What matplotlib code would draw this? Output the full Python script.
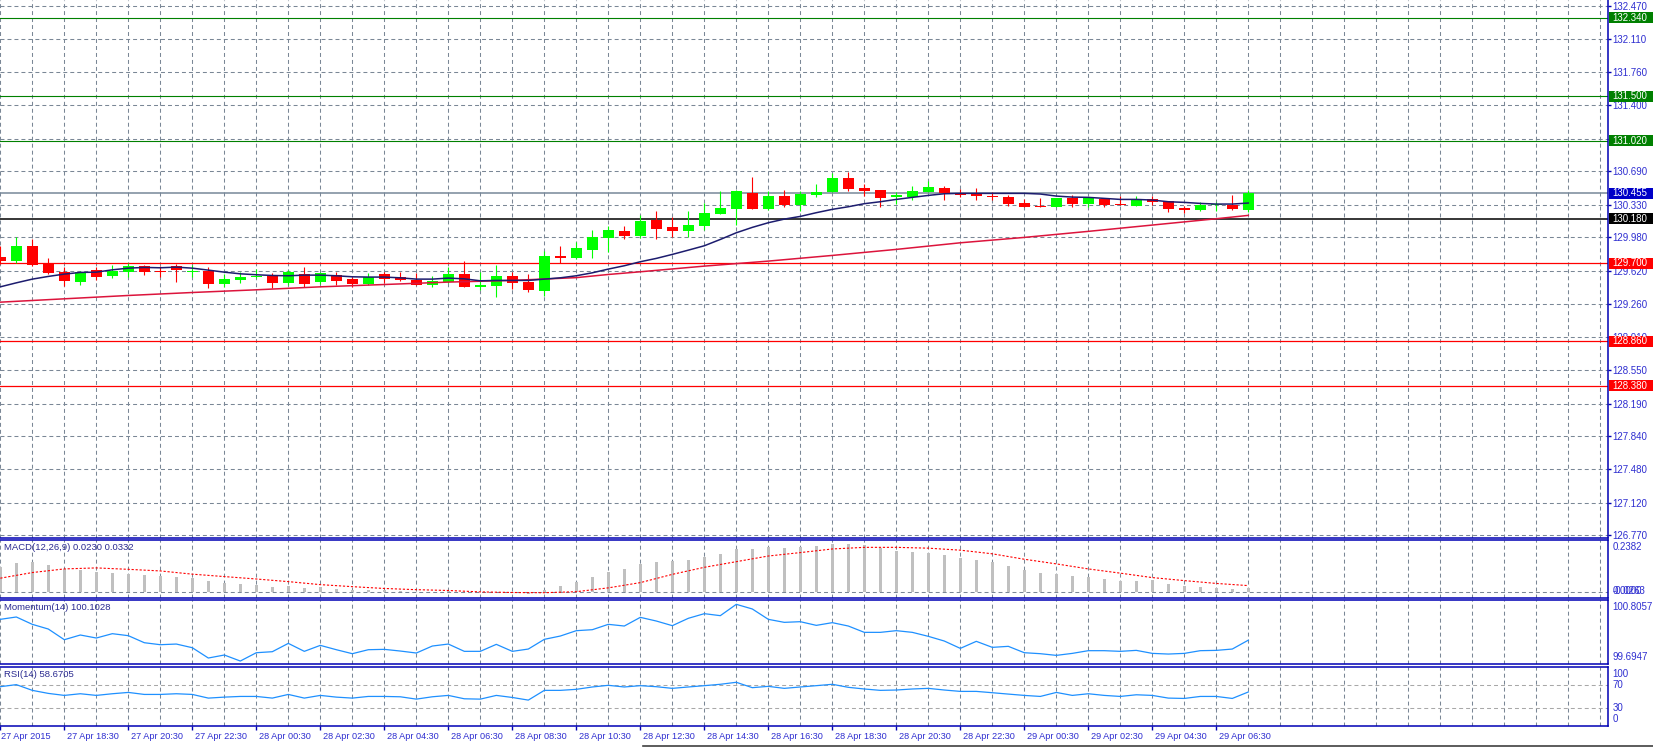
"""M30 candle chart with MAs, MACD, Momentum and RSI panes (MT4 look)."""

import matplotlib

matplotlib.use("Agg")
import matplotlib.pyplot as plt
import matplotlib.transforms as mtransforms
from matplotlib.lines import Line2D
from matplotlib.patches import Rectangle

plt.rcParams["font.family"] = ["Liberation Sans", "DejaVu Sans"]

# 30-minute bars, 27 Apr 2015 16:30 -> 29 Apr 2015 07:30
opens = [129.766, 129.723, 129.884, 129.701, 129.604, 129.500, 129.626, 129.565, 129.608, 129.669,
         129.611, 129.669, 129.605, 129.615, 129.478, 129.522, 129.555, 129.565, 129.486, 129.579,
         129.500, 129.568, 129.529, 129.478, 129.583, 129.550, 129.522, 129.468, 129.497, 129.583,
         129.446, 129.457, 129.561, 129.500, 129.403, 129.777, 129.759, 129.845, 129.971, 130.046,
         129.996, 130.168, 130.089, 130.046, 130.100, 130.229, 130.283, 130.456, 130.283, 130.423,
         130.323, 130.438, 130.470, 130.617, 130.509, 130.488, 130.409, 130.412, 130.470, 130.513,
         130.459, 130.459, 130.412, 130.412, 130.348, 130.312, 130.308, 130.405, 130.341, 130.387,
         130.341, 130.319, 130.391, 130.366, 130.294, 130.272, 130.328, 130.330, 130.276]
highs = [129.884, 129.978, 129.956, 129.759, 129.658, 129.615, 129.655, 129.676, 129.705, 129.683,
         129.669, 129.687, 129.676, 129.662, 129.579, 129.601, 129.637, 129.590, 129.626, 129.658,
         129.608, 129.604, 129.554, 129.597, 129.604, 129.601, 129.590, 129.561, 129.662, 129.723,
         129.601, 129.683, 129.608, 129.583, 129.834, 129.884, 129.931, 130.057, 130.100, 130.100,
         130.215, 130.262, 130.201, 130.262, 130.344, 130.477, 130.488, 130.632, 130.477, 130.488,
         130.477, 130.556, 130.675, 130.682, 130.556, 130.488, 130.470, 130.531, 130.585, 130.531,
         130.499, 130.513, 130.470, 130.430, 130.387, 130.402, 130.405, 130.434, 130.412, 130.405,
         130.423, 130.423, 130.423, 130.366, 130.319, 130.359, 130.362, 130.438, 130.484]
lows = [129.688, 129.705, 129.669, 129.586, 129.453, 129.464, 129.518, 129.543, 129.554, 129.572,
        129.554, 129.500, 129.554, 129.435, 129.446, 129.486, 129.536, 129.435, 129.464, 129.446,
        129.475, 129.464, 129.439, 129.464, 129.489, 129.507, 129.464, 129.446, 129.490, 129.440,
        129.410, 129.339, 129.425, 129.392, 129.349, 129.705, 129.741, 129.759, 129.823, 129.963,
        129.974, 129.963, 129.978, 129.978, 130.057, 130.229, 130.111, 130.283, 130.272, 130.305,
        130.265, 130.416, 130.470, 130.481, 130.427, 130.308, 130.337, 130.380, 130.463, 130.380,
        130.416, 130.380, 130.380, 130.319, 130.305, 130.301, 130.305, 130.308, 130.308, 130.308,
        130.326, 130.319, 130.326, 130.251, 130.237, 130.262, 130.262, 130.272, 130.251]
closes = [129.727, 129.884, 129.680, 129.597, 129.511, 129.601, 129.554, 129.619, 129.669, 129.604,
          129.608, 129.626, 129.612, 129.478, 129.529, 129.550, 129.560, 129.489, 129.604, 129.478,
          129.590, 129.511, 129.478, 129.557, 129.533, 129.522, 129.468, 129.504, 129.583, 129.446,
          129.464, 129.561, 129.489, 129.414, 129.777, 129.759, 129.863, 129.981, 130.057, 129.992,
          130.154, 130.068, 130.046, 130.111, 130.244, 130.298, 130.477, 130.283, 130.423, 130.326,
          130.445, 130.466, 130.617, 130.502, 130.481, 130.405, 130.438, 130.474, 130.520, 130.452,
          130.430, 130.427, 130.409, 130.341, 130.308, 130.308, 130.402, 130.341, 130.405, 130.326,
          130.326, 130.387, 130.362, 130.287, 130.276, 130.323, 130.331, 130.287, 130.455]

# fast MA (navy), one value per bar
ma_fast = [129.446, 129.489, 129.529, 129.558, 129.583, 129.601, 129.604, 129.629, 129.647, 129.655,
           129.651, 129.658, 129.647, 129.626, 129.604, 129.586, 129.576, 129.568, 129.565, 129.572,
           129.572, 129.565, 129.554, 129.551, 129.551, 129.543, 129.529, 129.529, 129.540, 129.532,
           129.511, 129.515, 129.515, 129.515, 129.529, 129.543, 129.565, 129.597, 129.637, 129.673,
           129.716, 129.752, 129.795, 129.841, 129.888, 129.956, 130.028, 130.086, 130.136, 130.175,
           130.204, 130.244, 130.280, 130.308, 130.341, 130.362, 130.387, 130.409, 130.430, 130.448,
           130.452, 130.452, 130.452, 130.452, 130.452, 130.445, 130.423, 130.412, 130.409, 130.398,
           130.387, 130.387, 130.380, 130.362, 130.355, 130.344, 130.337, 130.337, 130.348]
# slow MA (crimson), read every few bars
ma_slow_bars = [0, 4, 8, 12, 16, 20, 24, 28, 32, 36, 38, 40, 44, 48, 52, 56, 60, 64, 68, 72, 76, 78]
ma_slow = [129.281, 129.317, 129.353, 129.385, 129.414, 129.446, 129.471, 129.497, 129.515, 129.545,
           129.579, 129.608, 129.669, 129.723, 129.784, 129.849, 129.920, 129.978, 130.043, 130.111,
           130.179, 130.215]

green_levels = [132.340, 131.500, 131.020]
red_levels = [129.700, 128.860, 128.380]
black_level = 130.180
bid_price = 130.455

price_ticks = [132.470, 132.110, 131.760, 131.400, 131.040, 130.690, 130.330, 129.980, 129.620,
               129.260, 128.910, 128.550, 128.190, 127.840, 127.480, 127.120, 126.770]

macd_hist = [0.124, 0.145, 0.149, 0.136, 0.117, 0.111, 0.101, 0.096, 0.090, 0.086,
             0.083, 0.076, 0.071, 0.056, 0.046, 0.041, 0.037, 0.027, 0.031, 0.022,
             0.024, 0.016, 0.010, 0.012, 0.010, 0.006, 0.003, 0.003, 0.006, 0.002,
             0.000, 0.000, -0.003, -0.006, 0.010, 0.031, 0.052, 0.076, 0.101, 0.117,
             0.141, 0.151, 0.155, 0.160, 0.177, 0.191, 0.215, 0.215, 0.225, 0.220,
             0.225, 0.230, 0.238, 0.238, 0.234, 0.222, 0.207, 0.200, 0.195, 0.185,
             0.172, 0.160, 0.148, 0.130, 0.111, 0.096, 0.090, 0.081, 0.076, 0.066,
             0.058, 0.056, 0.059, 0.041, 0.031, 0.027, 0.022, 0.016, 0.0230]
signal_bars = list(range(0, 79, 2))
macd_signal = [0.070, 0.098, 0.116, 0.121, 0.114, 0.106, 0.090, 0.078, 0.066, 0.053,
               0.038, 0.028, 0.019, 0.013, 0.009, 0.002, -0.001, -0.002, 0.003, 0.022,
               0.048, 0.089, 0.124, 0.152, 0.180, 0.197, 0.215, 0.223, 0.223, 0.219,
               0.209, 0.191, 0.164, 0.141, 0.116, 0.095, 0.073, 0.058, 0.044, 0.0332]

momentum = [100.511, 100.557, 100.413, 100.321, 100.112, 100.204, 100.145, 100.230, 100.191, 100.053,
            100.014, 100.027, 99.955, 99.753, 99.812, 99.694, 99.857, 99.877, 100.040, 99.884,
            100.001, 99.916, 99.838, 99.916, 99.923, 99.890, 99.851, 99.988, 100.027, 99.884,
            99.884, 100.021, 99.884, 99.929, 100.119, 100.184, 100.289, 100.308, 100.413, 100.380,
            100.550, 100.478, 100.387, 100.531, 100.622, 100.583, 100.805, 100.714, 100.511, 100.452,
            100.465, 100.393, 100.446, 100.380, 100.256, 100.256, 100.289, 100.256, 100.178, 100.086,
            99.942, 100.080, 99.962, 99.982, 99.857, 99.838, 99.805, 99.844, 99.897, 99.897,
            99.884, 99.903, 99.844, 99.831, 99.844, 99.897, 99.903, 99.929, 100.1028]

rsi = [67.9, 71.5, 61.5, 56.2, 52.7, 55.6, 52.7, 55.6, 57.9, 54.4,
       54.4, 55.6, 54.4, 48.0, 49.7, 50.9, 50.9, 48.0, 54.4, 48.0,
       52.7, 49.7, 48.0, 50.9, 50.9, 50.3, 46.2, 50.3, 52.7, 46.8,
       46.2, 52.7, 49.1, 44.5, 61.5, 61.5, 63.3, 67.4, 70.3, 67.4,
       69.7, 67.9, 65.0, 67.4, 69.7, 72.1, 75.6, 66.2, 68.5, 65.0,
       67.4, 69.7, 72.1, 66.8, 63.9, 61.5, 62.1, 63.9, 65.0, 62.1,
       59.7, 59.7, 57.4, 55.0, 52.7, 50.9, 57.9, 52.7, 55.6, 52.7,
       50.9, 53.8, 52.7, 48.0, 47.4, 50.9, 50.9, 47.4, 58.6705]

date_bars = list(range(4, 77, 4))
date_labels = ["27 Apr 18:30", "27 Apr 20:30", "27 Apr 22:30", "28 Apr 00:30", "28 Apr 02:30",
               "28 Apr 04:30", "28 Apr 06:30", "28 Apr 08:30", "28 Apr 10:30", "28 Apr 12:30",
               "28 Apr 14:30", "28 Apr 16:30", "28 Apr 18:30", "28 Apr 20:30", "28 Apr 22:30",
               "29 Apr 00:30", "29 Apr 02:30", "29 Apr 04:30", "29 Apr 06:30"]

W, H = 1653, 747
AX_RIGHT = 1608.3
AXIS_BLUE = "#0000b4"
LABEL_BLUE = "#2e2ed0"
TITLE_COL = "#2a2a90"
GRID = "#7a8796"
DASH = (0, (3.8, 2.9))
FS = 7

fig = plt.figure(figsize=(W / 100, H / 100), dpi=100, facecolor="white")


def panel(top_px, bot_px, top_spine=True):
    ax = fig.add_axes([0, 1 - bot_px / H, AX_RIGHT / W, (bot_px - top_px) / H])
    ax.set_xlim(-0.02, 100.5)
    for s in ("top", "bottom", "right"):
        ax.spines[s].set_color(AXIS_BLUE)
        ax.spines[s].set_linewidth(1.1)
    ax.spines["left"].set_visible(False)
    ax.spines["top"].set_visible(top_spine)
    ax.tick_params(axis="x", bottom=False, labelbottom=False)
    ax.tick_params(axis="y", left=False, labelleft=False, right=False, labelright=False)
    for gx in range(0, 101, 2):
        ax.axvline(gx, color=GRID, lw=0.75, ls=DASH, zorder=0)
    return ax


def side_text(ax, y, s, va, dy=0, data=False):
    base = mtransforms.blended_transform_factory(fig.transFigure, ax.transData if data else ax.transAxes)
    tr = mtransforms.offset_copy(base, fig=fig, y=dy, units="dots")
    ax.text(1612.5 / W, y, s, transform=tr, ha="left", va=va, fontsize=FS,
            color=LABEL_BLUE, clip_on=False)


def title_text(ax, s):
    tr = mtransforms.offset_copy(ax.transAxes, fig=fig, x=4, y=-3, units="dots")
    ax.text(0, 1, s, transform=tr, ha="left", va="top", fontsize=6.8, color=TITLE_COL)


# ---- price pane
main = panel(0, 537.7, top_spine=False)
main.set_ylim(126.7456, 132.5335)
for t in price_ticks:
    main.axhline(t, color=GRID, lw=0.75, ls=DASH, zorder=0)
for lv in green_levels:
    main.axhline(lv, color="#008000", lw=0.8, zorder=1)
for lv in red_levels:
    main.axhline(lv, color="#ff0000", lw=0.9, zorder=1)
main.axhline(black_level, color="black", lw=1.1, zorder=1)
main.axhline(bid_price, color="#778899", lw=1.1, zorder=1)

x = list(range(len(opens)))
cols = ["#00ff00" if c > o else "#ff0000" for o, c in zip(opens, closes)]
body_lo = [min(o, c) for o, c in zip(opens, closes)]
body_h = [max(abs(c - o), 0.011) for o, c in zip(opens, closes)]
main.vlines(x, lows, highs, colors=cols, lw=0.8, zorder=3)
main.bar(x, body_h, bottom=body_lo, width=0.69, color=cols, lw=0, zorder=4)
main.plot(ma_slow_bars, ma_slow, color="#dc143c", lw=1.1, zorder=5)
main.plot(x, ma_fast, color="#1c1c6e", lw=1.1, zorder=5)

main.yaxis.tick_right()
main.set_yticks(price_ticks)
main.set_yticklabels([f"{t:.3f}" for t in price_ticks])
main.tick_params(axis="y", right=True, labelright=True, length=2.2, width=1,
                 color=AXIS_BLUE, labelcolor=LABEL_BLUE, labelsize=FS, pad=1)

# coloured price boxes on the scale
fig.canvas.draw()
box_levels = [(p, "#008000") for p in green_levels] + [(p, "#ff0000") for p in red_levels]
box_levels += [(bid_price, "#0000c8"), (black_level, "black")]
for p, c in box_levels:
    yf = main.transData.transform((0, p))[1] / fig.bbox.height
    fig.add_artist(Rectangle((1609 / W, yf - 5.5 / H), 1 - 1609 / W, 11 / H,
                             transform=fig.transFigure, facecolor=c, edgecolor="none", zorder=5))
    fig.text(1612.5 / W, yf, f"{p:.3f}", color="white", fontsize=FS, ha="left", va="center", zorder=6)

# ---- MACD pane
ax_macd = panel(540.3, 597.7)
ax_macd.set_ylim(-0.0268, 0.258)
ax_macd.axhline(0, color=GRID, lw=0.75, ls=DASH, zorder=0)
ax_macd.bar(x, macd_hist, width=0.19, color="#c0c0c0", lw=0, zorder=2)
ax_macd.plot(signal_bars, macd_signal, color="#ff0000", lw=0.8, ls=(0, (2, 1.6)), zorder=3)
title_text(ax_macd, f"MACD(12,26,9) {macd_hist[-1]:.4f} {macd_signal[-1]:.4f}")
side_text(ax_macd, 1, "0.2382", "top", dy=-2)
side_text(ax_macd, 0, "-0.0263", "bottom", dy=2)
side_text(ax_macd, 0, "0.0000", "bottom", dy=2)

# ---- Momentum pane
ax_mom = panel(600.3, 664)
ax_mom.set_ylim(99.636, 100.884)
ax_mom.plot(x, momentum, color="#1e90ff", lw=0.9, zorder=3)
title_text(ax_mom, f"Momentum(14) {momentum[-1]:.4f}")
side_text(ax_mom, 1, "100.8057", "top", dy=-2)
side_text(ax_mom, 0, "99.6947", "bottom", dy=2)

# ---- RSI pane
ax_rsi = panel(666.7, 726)
ax_rsi.set_ylim(-0.7, 102.8)
for lv in (70, 30):
    ax_rsi.axhline(lv, color="#a8a8a8", lw=0.75, ls=DASH, zorder=0)
ax_rsi.plot(x, rsi, color="#1e90ff", lw=0.9, zorder=3)
title_text(ax_rsi, f"RSI(14) {rsi[-1]:.4f}")
side_text(ax_rsi, 1, "100", "top", dy=-2)
side_text(ax_rsi, 70, "70", "center", data=True)
side_text(ax_rsi, 30, "30", "center", data=True)
side_text(ax_rsi, 0, "0", "bottom", dy=2)

# time scale
ax_rsi.set_xticks([0] + date_bars)
ax_rsi.tick_params(axis="x", bottom=True, labelbottom=False, length=3, width=1,
                   color=AXIS_BLUE, direction="out")
bt = mtransforms.blended_transform_factory(ax_rsi.transData, ax_rsi.transAxes)
ax_rsi.text(0.02, -0.17, "27 Apr 2015", transform=bt, ha="left", va="center",
            fontsize=6.6, color=LABEL_BLUE, clip_on=False)
for b, lbl in zip(date_bars, date_labels):
    ax_rsi.text(b + 0.15, -0.17, lbl, transform=bt, ha="left", va="center",
                fontsize=6.6, color=LABEL_BLUE, clip_on=False)

# window frame line at the bottom
fig.add_artist(Line2D([643 / W, 1], [1 - 745.5 / H] * 2, transform=fig.transFigure,
                      color="#404040", lw=1.2))

fig.savefig("out.png", dpi=100, facecolor="white")
print("saved out.png")
